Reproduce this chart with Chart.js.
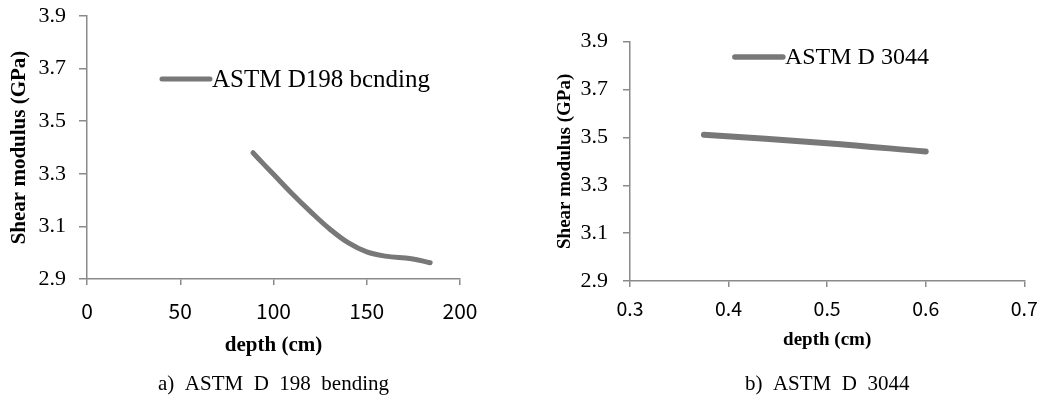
<!DOCTYPE html>
<html>
<head>
<meta charset="utf-8">
<script src="https://cdn.jsdelivr.net/npm/chart.js@4.4.1/dist/chart.umd.min.js"></script>
<style>
  html, body { margin: 0; padding: 0; background: #ffffff; }
  #wrap { position: relative; width: 1042px; height: 398px; overflow: hidden; }
  canvas { position: absolute; top: 0; }
  #ca { left: 0; }
  #cb { left: 520px; }
</style>
</head>
<body>
<div id="wrap">
  <canvas id="ca" width="500" height="398"></canvas>
  <canvas id="cb" width="522" height="398"></canvas>
</div>
<script>
// ---- data ----
const depthA = [89, 95, 100, 110, 120, 130, 140, 150, 160, 174, 184];
const shearA = [3.380, 3.335, 3.298, 3.224, 3.155, 3.091, 3.038, 3.003, 2.987, 2.977, 2.962];
const labelA = 'ASTM D198 bcnding';
const captionA = 'a)  ASTM  D  198  bending';
const xTicksA = [0, 50, 100, 150, 200];

const depthB = [0.375, 0.5, 0.6];
const shearB = [3.511, 3.476, 3.441];
const labelB = 'ASTM D 3044';
const captionB = 'b)  ASTM  D  3044';
const xTicksB = [0.3, 0.4, 0.5, 0.6, 0.7];

const yTicks = [2.9, 3.1, 3.3, 3.5, 3.7, 3.9];
const yTitle = 'Shear modulus (GPa)';
const xTitle = 'depth (cm)';

// ---- styling ----
const LINE = '#787878';
const AXIS = '#8a8a8a';
const SERIF = "'Liberation Serif', 'Times New Roman', serif";
const SANS = "'Noto Sans CJK KR', 'Noto Sans', sans-serif";

const inlineLegend = {
  id: 'inlineLegend',
  afterDatasetsDraw(chart, args, opts) {
    const ca = chart.chartArea;
    const ds = chart.data.datasets[0];
    const ctx = chart.ctx;
    const x0 = ca.left + opts.fx * (ca.right - ca.left);
    const y0 = ca.top + opts.fy * (ca.bottom - ca.top);
    ctx.save();
    ctx.strokeStyle = ds.borderColor;
    ctx.lineWidth = opts.lw;
    ctx.lineCap = 'round';
    ctx.beginPath();
    ctx.moveTo(x0, y0);
    ctx.lineTo(x0 + opts.len, y0);
    ctx.stroke();
    ctx.fillStyle = '#000';
    ctx.font = opts.size + 'px ' + SERIF;
    ctx.textBaseline = 'middle';
    ctx.textAlign = 'left';
    ctx.fillText(ds.label, x0 + opts.len + 2, y0 + 1);
    ctx.restore();
  }
};

function makeChart(canvasId, cfg) {
  const pts = cfg.xs.map((x, i) => ({ x: x, y: cfg.ys[i] }));
  return new Chart(document.getElementById(canvasId), {
    type: 'line',
    data: {
      datasets: [{
        label: cfg.label,
        data: pts,
        borderColor: LINE,
        backgroundColor: LINE,
        borderWidth: cfg.lineWidth,
        borderCapStyle: 'round',
        borderJoinStyle: 'round',
        pointRadius: 0,
        tension: 0.4,
        fill: false
      }]
    },
    plugins: [inlineLegend],
    options: {
      responsive: false,
      animation: false,
      devicePixelRatio: 1,
      layout: { padding: cfg.padding },
      plugins: {
        legend: { display: false },
        tooltip: { enabled: false },
        title: {
          display: true,
          position: 'bottom',
          fullSize: false,
          text: cfg.caption,
          color: '#000',
          font: { family: SERIF, size: 21, weight: 'normal', lineHeight: 1.2 },
          padding: { top: 0, bottom: 1 }
        },
        inlineLegend: cfg.legend
      },
      scales: {
        x: {
          type: 'linear',
          position: 'bottom',
          min: cfg.xTicks[0],
          max: cfg.xTicks[cfg.xTicks.length - 1],
          afterBuildTicks: s => { s.ticks = cfg.xTicks.map(v => ({ value: v })); },
          afterFit: s => { s.height = cfg.xHeight; s.paddingLeft = 0; s.paddingRight = 0; },
          ticks: {
            color: '#000',
            font: { family: SANS, size: cfg.xTickSize, lineHeight: 1.2 },
            padding: cfg.xTickPad,
            maxRotation: 0,
            autoSkip: false,
            callback: v => cfg.xFmt(v)
          },
          grid: { display: true, drawOnChartArea: false, drawTicks: true, tickLength: 6, color: AXIS, lineWidth: 1.5 },
          border: { display: true, color: AXIS, width: 1.5 },
          title: {
            display: true,
            text: xTitle,
            color: '#000',
            font: { family: SERIF, size: cfg.titleSize, weight: 'bold', lineHeight: 1.2 },
            padding: { top: 0, bottom: cfg.xTitlePad }
          }
        },
        y: {
          type: 'linear',
          position: 'left',
          min: yTicks[0],
          max: yTicks[yTicks.length - 1],
          afterBuildTicks: s => { s.ticks = yTicks.map(v => ({ value: v })); },
          afterFit: s => { s.width = cfg.yWidth; s.paddingTop = 0; s.paddingBottom = 0; },
          ticks: {
            color: '#000',
            font: { family: SERIF, size: 22, lineHeight: 1.2 },
            padding: cfg.yTickPad,
            autoSkip: false,
            callback: v => Number(v).toFixed(1)
          },
          grid: { display: true, drawOnChartArea: false, drawTicks: true, tickLength: cfg.yTickLen, color: AXIS, lineWidth: 1.5 },
          border: { display: true, color: AXIS, width: 1.5 },
          title: {
            display: true,
            text: yTitle,
            color: '#000',
            font: { family: SERIF, size: cfg.titleSize, weight: 'bold', lineHeight: 1.2 },
            padding: { top: cfg.yTitlePad, bottom: 0 }
          }
        }
      }
    }
  });
}

makeChart('ca', {
  xs: depthA, ys: shearA, label: labelA, caption: captionA, xTicks: xTicksA,
  xFmt: v => String(v),
  lineWidth: 5,
  padding: { left: 0, right: 40, top: 16, bottom: 0 },
  xHeight: 92.8, yWidth: 87,
  xTickSize: 21, xTickPad: 13, xTitlePad: 14,
  yTickPad: 13, yTickLen: 8, yTitlePad: 7.4,
  titleSize: 21,
  legend: { fx: 0.201, fy: 0.2395, len: 48, lw: 5, size: 25 }
});

makeChart('cb', {
  xs: depthB, ys: shearB, label: labelB, caption: captionB, xTicks: xTicksB,
  xFmt: v => Number(v).toFixed(1),
  lineWidth: 6,
  padding: { left: 0, right: 17.7, top: 41.7, bottom: 0 },
  xHeight: 90.8, yWidth: 110,
  xTickSize: 19.5, xTickPad: 9.6, xTitlePad: 20.4,
  yTickPad: 15, yTickLen: 7, yTitlePad: 33.6,
  titleSize: 19,
  legend: { fx: 0.266, fy: 0.064, len: 48, lw: 5.5, size: 24 }
});
</script>
</body>
</html>
